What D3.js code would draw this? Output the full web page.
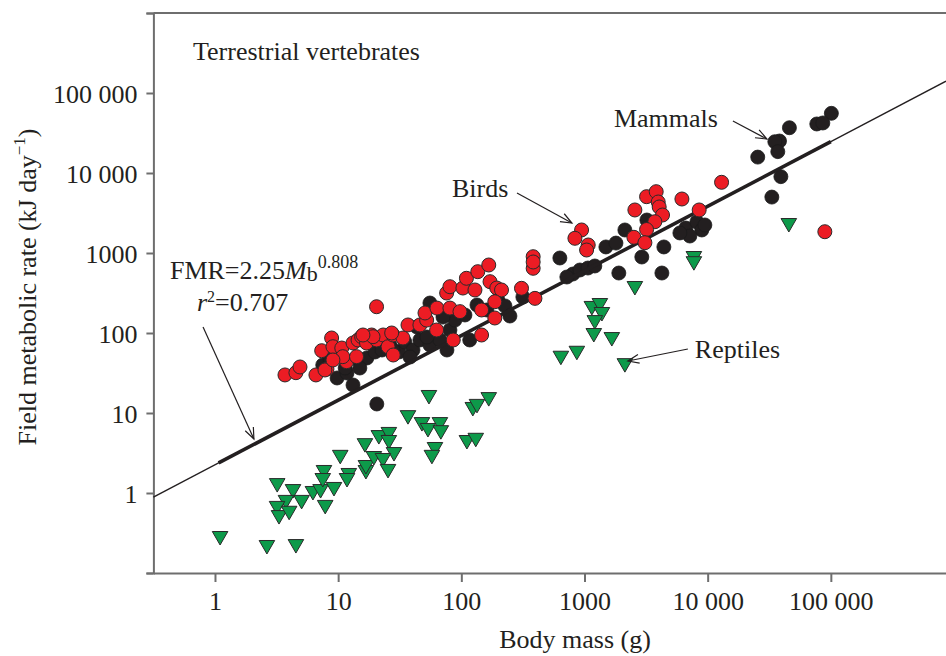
<!DOCTYPE html>
<html><head><meta charset="utf-8">
<script src="https://cdn.jsdelivr.net/npm/d3@7"></script>
<style>
html,body{margin:0;padding:0;background:#fff;}
svg{display:block;}
text{font-family:"Liberation Serif","Times New Roman",serif;fill:#231f20;}
</style></head>
<body>
<svg id="chart" width="946" height="656"></svg>
<script>
// ---------- data (body mass g, field metabolic rate kJ/day) ----------
const mammalMass = [101000, 76900, 86100, 46100, 38300, 35100, 37100, 25500, 39300, 33200,
  6650, 8170, 8970, 7170, 5950, 9490,
  631, 805, 918, 1066, 1213, 719, 1492, 1800, 2128, 3210, 1900, 2920, 4410, 4250,
  20.6, 13.2, 9.8, 11.8, 7.5, 8.6, 11.4, 15, 17.1, 19.9,
  22.7, 26.3, 31.2, 34.8, 40.5, 46.1, 55.6, 67, 76.4, 80.8,
  88.7, 107, 134, 161, 198, 226, 316, 55.6, 71, 43.6,
  52.6, 27.9, 38.3, 15, 117, 248];
const mammalFMR = [55700, 41000, 42200, 36800, 25100, 24600, 18500, 15800, 9000, 5000,
  2050, 2440, 1940, 1630, 1780, 2240,
  866, 546, 613, 649, 688, 501, 1190, 1330, 1940, 2585, 562, 891, 1190, 562,
  12.96, 22.4, 27.4, 31.6, 39.8, 46, 36.5, 43.4, 48.7, 57.9,
  61.3, 70.8, 57.9, 77.2, 61.3, 81.8, 70.8, 81.8, 61.3, 109,
  145, 168, 224, 194, 258, 218, 282, 237, 158, 119,
  89.1, 61.3, 50.1, 36.5, 81.8, 163];

const birdMass = [3.7, 4.54, 4.9, 6.6, 7.35, 8.11, 8.85, 9.72, 9.07, 10.7,
  11.7, 10.9, 13.2, 14.1, 14.5, 15.5, 17.0, 18.7, 20.5, 23.2,
  25.4, 27.9, 33.6, 28.0, 7.81, 9.07, 20.5, 19.2, 15.9, 27.2,
  36.9, 46.1, 52.3, 50.7, 63, 63.4, 80.8, 97.5, 76, 80.8,
  103, 110, 136, 167, 129, 171, 194, 212, 187, 187,
  146, 86, 146, 308, 396, 383, 383, 383, 947, 836,
  1072, 1040, 2565, 3192, 3820, 3966, 4040, 4300, 3727, 3192,
  2518, 3093, 6180, 8530, 12970, 89400];
const birdFMR = [29.9, 31.9, 37.6, 29.9, 60.1, 35.5, 86.6, 53.1, 67.4, 64.9,
  43.8, 50.6, 75, 50.6, 81.8, 89.9, 75, 94.4, 81.8, 94.4,
  67.4, 94.4, 86.6, 53.1, 34.5, 46, 213, 89.9, 94.4, 100,
  126, 126, 145, 178, 109, 205, 205, 185, 316, 379,
  365, 483, 584, 708, 345, 438, 365, 345, 246, 154,
  94.4, 81.8, 194, 362, 271, 899, 644, 772, 1940, 1527,
  1259, 1090, 3450, 5058, 5840, 4340, 3760, 2985, 2460, 1967,
  1571, 1345, 4730, 3450, 7650, 1845];

const reptileMass = [1.1, 2.64, 4.54, 3.2, 4.3, 5.05, 3.77, 3.19, 3.31, 4.0,
  6.24, 7.2, 7.67, 7.5, 9.25, 7.85, 10.4, 12.2, 11.8, 16.5,
  16.8, 16.8, 19.5, 21.4, 25.8, 25.8, 28.4, 23.1, 25.4, 36.9,
  47.9, 67, 53.6, 68.2, 54.6, 61.1, 57.7, 111, 131, 124,
  134, 167, 2565, 1148, 1333, 1385, 1213, 1190, 1667, 643,
  867, 2128, 45600, 7730, 7730];
const reptileFMR = [0.29, 0.224, 0.23, 1.33, 1.12, 0.82, 0.82, 0.69, 0.53, 0.6,
  1.06, 1.12, 1.94, 1.54, 1.19, 0.71, 3.0, 1.78, 1.54, 4.2,
  1.94, 2.24, 2.9, 5.3, 5.8, 4.6, 3.25, 2.74, 2.0, 9.4,
  7.7, 7.7, 6.5, 6.1, 16.8, 3.76, 3.0, 4.6, 4.9, 11.9,
  13.0, 15.8, 387, 218, 237, 183, 145, 100, 89, 52,
  60, 42, 2370, 917, 790];

// regression FMR = 2.25 Mb^0.808
const fitCoef = 2.25, fitExp = 0.808;
const fitThickRange = [1.07, 100000];

const xTicks = [1, 10, 100, 1000, 10000, 100000];
const xTickLabels = ["1", "10", "100", "1000", "10 000", "100 000"];
const yTicks = [0.1, 1, 10, 100, 1000, 10000, 100000, 1000000];
const yTickLabels = ["", "1", "10", "100", "1000", "10 000", "100 000", ""];

// ---------- layout ----------
const svg = d3.select("#chart");
const pLeft = 153.4, pRight = 946, pTop = 13, pBottom = 573;
const x = d3.scaleLog().domain([Math.pow(10, -0.5), Math.pow(10, 5.935)]).range([pLeft, pRight]);
const y = d3.scaleLog().domain([0.1, 1e6]).range([pBottom, pTop]);
const axisColor = "#6e6e6e";
const FS = 26;

// top frame line
svg.append("line").attr("x1", pLeft).attr("x2", pRight).attr("y1", y(1e6)).attr("y2", y(1e6))
  .attr("stroke", axisColor).attr("stroke-width", 2);

// y axis
const gy = svg.append("g").attr("transform", `translate(${pLeft},0)`)
  .call(d3.axisLeft(y).tickValues(yTicks).tickFormat((d, i) => yTickLabels[i])
    .tickSize(7).tickSizeOuter(7).tickPadding(9));
// x axis
const gx = svg.append("g").attr("transform", `translate(0,${pBottom})`)
  .call(d3.axisBottom(x).tickValues(xTicks).tickFormat((d, i) => xTickLabels[i])
    .tickSize(9).tickSizeOuter(0).tickPadding(10));
[gx, gy].forEach(g => {
  g.selectAll("path.domain").attr("stroke", axisColor).attr("stroke-width", 2);
  g.selectAll(".tick line").attr("stroke", axisColor).attr("stroke-width", 2);
  g.selectAll(".tick text").attr("font-family", "Liberation Serif").attr("font-size", FS).attr("fill", "#231f20");
});
gy.selectAll(".tick text").attr("dy", "0.36em");

// axis titles
svg.append("text").attr("x", 575).attr("y", 648).attr("text-anchor", "middle")
  .attr("font-size", FS).text("Body mass (g)");
const yt = svg.append("text").attr("transform", "translate(36,287) rotate(-90)")
  .attr("text-anchor", "middle").attr("font-size", FS);
yt.append("tspan").text("Field metabolic rate (kJ day");
yt.append("tspan").attr("font-size", 17).attr("dy", -11).text("\u22121");
yt.append("tspan").attr("dy", 11).text(")");

// ---------- marks ----------
const markStroke = "#2a2a2a";
// mammals
svg.append("g").selectAll("circle").data(mammalMass.map((m, i) => [m, mammalFMR[i]]))
  .join("circle").attr("cx", d => x(d[0])).attr("cy", d => y(d[1])).attr("r", 7)
  .attr("fill", "#231f20").attr("stroke", "#1a1a1a").attr("stroke-width", 0.8);

// regression line: thin full extent, thick over data range
const fit = m => fitCoef * Math.pow(m, fitExp);
const lineGen = d3.line().x(d => x(d)).y(d => y(fit(d)));
svg.append("path").attr("d", lineGen(x.domain())).attr("stroke", "#231f20").attr("stroke-width", 1.4).attr("fill", "none");
svg.append("path").attr("d", lineGen(fitThickRange)).attr("stroke", "#231f20").attr("stroke-width", 3.6).attr("fill", "none");

// birds
svg.append("g").selectAll("circle").data(birdMass.map((m, i) => [m, birdFMR[i]]))
  .join("circle").attr("cx", d => x(d[0])).attr("cy", d => y(d[1])).attr("r", 7)
  .attr("fill", "#ec1c24").attr("stroke", markStroke).attr("stroke-width", 1);

// reptiles (downward triangles)
const tri = d3.symbol().type(d3.symbolTriangle).size(105);
svg.append("g").selectAll("path").data(reptileMass.map((m, i) => [m, reptileFMR[i]]))
  .join("path").attr("d", tri)
  .attr("transform", d => `translate(${x(d[0])},${y(d[1])}) rotate(180)`)
  .attr("fill", "#0d9a4a").attr("stroke", markStroke).attr("stroke-width", 1);

// ---------- annotations ----------
function arrow(m1, f1, m2, f2) {
  const x1 = x(m1), y1 = y(f1), x2 = x(m2), y2 = y(f2);
  const a = Math.atan2(y2 - y1, x2 - x1), L = 12, da = 0.38;
  svg.append("line").attr("x1", x1).attr("y1", y1).attr("x2", x2).attr("y2", y2)
    .attr("stroke", "#231f20").attr("stroke-width", 1.2);
  svg.append("path")
    .attr("d", `M${x2 - L * Math.cos(a - da)},${y2 - L * Math.sin(a - da)}L${x2},${y2}L${x2 - L * Math.cos(a + da)},${y2 - L * Math.sin(a + da)}`)
    .attr("fill", "none").attr("stroke", "#231f20").attr("stroke-width", 1.2);
}
function label(m, f, txt) {
  return svg.append("text").attr("x", x(m)).attr("y", y(f)).attr("font-size", FS).text(txt);
}
label(0.663, 258500, "Terrestrial vertebrates");
label(84, 5012, "Birds");
label(1733, 37600, "Mammals");
label(7870, 48.7, "Reptiles");
arrow(283, 5623, 790, 2371);
arrow(16030, 44670, 30260, 26600);
arrow(6910, 63.1, 2250, 44.7);
arrow(0.80, 119, 2.07, 4.73);

const eq = svg.append("text").attr("x", x(0.431)).attr("y", y(480)).attr("font-size", FS);
eq.append("tspan").text("FMR=2.25");
eq.append("tspan").attr("font-style", "italic").text("M");
eq.append("tspan").attr("font-size", 22).attr("dy", 2).text("b");
eq.append("tspan").attr("font-size", 18).attr("dy", -13).text("0.808");
const r2 = svg.append("text").attr("x", x(0.714)).attr("y", y(190)).attr("font-size", FS);
r2.append("tspan").attr("font-style", "italic").text("r");
r2.append("tspan").attr("font-size", 16).attr("dy", -9).text("2");
r2.append("tspan").attr("dy", 9).text("=0.707");
</script>
</body></html>
